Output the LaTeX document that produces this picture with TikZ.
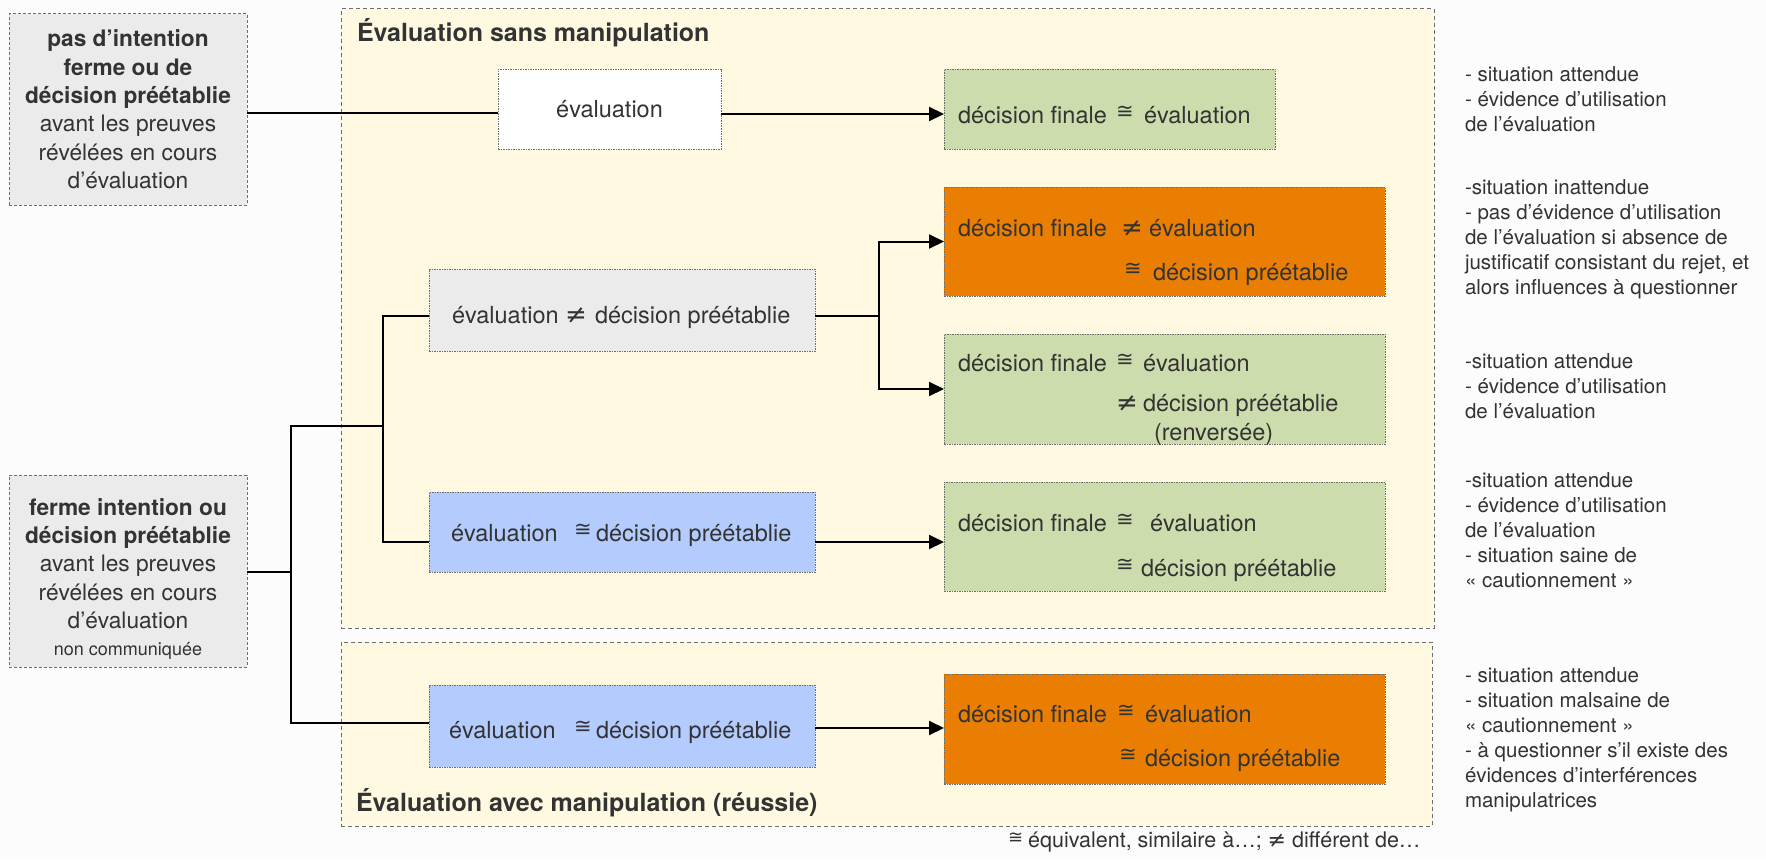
\documentclass[tikz,border=0pt]{standalone}
\usepackage{fontspec}
\setmainfont{TeX Gyre Heros}
\newfontfamily\sym{DejaVu Sans}
\usetikzlibrary{arrows.meta}
\definecolor{bgc}{HTML}{FCFCFC}
\definecolor{panelc}{HTML}{FFF9E1}
\definecolor{greyc}{HTML}{EBEBEB}
\definecolor{greenc}{HTML}{CDDCAC}
\definecolor{orangec}{HTML}{EA7E03}
\definecolor{bluec}{HTML}{B4CBFE}
\definecolor{txtc}{HTML}{333333}
\definecolor{bordc}{HTML}{6E6E6E}
\newcommand\eqv{\raisebox{4.5pt}{\fontsize{21}{21}\sym ≅}}
\newcommand\eqvs{\raisebox{3.5pt}{\fontsize{18}{18}\sym ≅}}
\newcommand\neqv{{\fontsize{26}{26}\sym ≠}}
\begin{document}
\begin{tikzpicture}[x=1pt,y=-1pt,
  every node/.style={inner sep=0pt, outer sep=0pt, text=txtc},
  panel/.style={draw=bordc, line width=1pt, dash pattern=on 4pt off 3pt, fill=panelc},
  sidebox/.style={draw=bordc, line width=1pt, dash pattern=on 3pt off 2pt, fill=greyc, align=center, font=\fontsize{22.7}{28.4}\selectfont},
  sidetxt/.style={align=center, font=\fontsize{22.7}{28.2}\selectfont},
  box/.style={draw=bordc, line width=0.9pt, dash pattern=on 1.5pt off 1pt},
  btxt/.style={anchor=base west, font=\fontsize{23.5}{28}\selectfont},
  note/.style={anchor=north west, align=left, font=\fontsize{20.5}{25}\selectfont},
  ttl/.style={anchor=base west, font=\bfseries\fontsize{25}{30}\selectfont},
  link/.style={line width=2pt, draw=black},
  arr/.style={link, -{Triangle[length=15pt,width=14pt]}},
]
\fill[bgc] (0,0) rectangle (1766,859);
\useasboundingbox (0,0) rectangle (1766,859);

% panels
\node[panel, anchor=north west, minimum width=1093pt, minimum height=619pt] (PA) at (341,9) {};
\node[panel, anchor=north west, minimum width=1091pt, minimum height=184pt] (PB) at (341,642) {};
\node[ttl] (TA) at (357,42) {Évaluation sans manipulation};
\node[ttl] (TB) at (356,811) {Évaluation avec manipulation (réussie)};

% left boxes
\node[sidebox, anchor=north west, minimum width=238pt, minimum height=191pt] (L1) at (9,14)
  {\textbf{pas d’intention}\\\textbf{ferme ou de}\\\textbf{décision préétablie}\\avant les preuves\\révélées en cours\\d’évaluation};
\node[sidebox, anchor=north west, minimum width=238pt, minimum height=192pt] (L2) at (9,475) {};
\node[sidetxt] (L2t) at (128,579)
  {\textbf{ferme intention ou}\\\textbf{décision préétablie}\\avant les preuves\\révélées en cours\\d’évaluation\\[-1pt]{\fontsize{18}{20}\selectfont non communiquée}};

% inner boxes
\node[box, fill=white, anchor=north west, minimum width=223pt, minimum height=80pt, font=\fontsize{23.5}{28}\selectfont] (E0) at (498,69) {évaluation};
\node[box, fill=greenc, anchor=north west, minimum width=331pt, minimum height=80pt] (G1) at (944,69) {};
\node[box, fill=orangec, anchor=north west, minimum width=441pt, minimum height=109pt] (O1) at (944,187) {};
\node[box, fill=greyc, anchor=north west, minimum width=386pt, minimum height=82pt] (GR) at (429,269) {};
\node[box, fill=greenc, anchor=north west, minimum width=441pt, minimum height=110pt] (G2) at (944,334) {};
\node[box, fill=bluec, anchor=north west, minimum width=386pt, minimum height=80pt] (B1) at (429,492) {};
\node[box, fill=greenc, anchor=north west, minimum width=441pt, minimum height=109pt] (G3) at (944,482) {};
\node[box, fill=bluec, anchor=north west, minimum width=386pt, minimum height=82pt] (B2) at (429,685) {};
\node[box, fill=orangec, anchor=north west, minimum width=441pt, minimum height=110pt] (O2) at (944,674) {};

% box texts
\node[btxt] (G1a) at (958,123) {\makebox[158pt][l]{décision finale}\makebox[28pt][l]{\eqv}évaluation};
\node[btxt] (O1a) at (958,236) {\makebox[163pt][l]{décision finale}\makebox[28pt][l]{\neqv}évaluation};
\node[btxt] (O1b) at (1124,280) {\makebox[29pt][l]{\eqv}décision préétablie};
\node[btxt] (GRa) at (452,323) {\makebox[113pt][l]{évaluation}\makebox[30pt][l]{\neqv}décision préétablie};
\node[btxt] (G2a) at (958,371) {\makebox[158pt][l]{décision finale}\makebox[27pt][l]{\eqv}évaluation};
\node[btxt] (G2b) at (1116,411) {\makebox[27pt][l]{\neqv}décision préétablie};
\node[btxt] (G2c) at (1154,440) {(renversée)};
\node[btxt] (B1a) at (451,541) {\makebox[123pt][l]{évaluation}\makebox[22pt][l]{\eqv}décision préétablie};
\node[btxt] (G3a) at (958,531) {\makebox[158pt][l]{décision finale}\makebox[34pt][l]{\eqv}évaluation};
\node[btxt] (G3b) at (1116,576) {\makebox[25pt][l]{\eqv}décision préétablie};
\node[btxt] (B2a) at (449,738) {\makebox[125pt][l]{évaluation}\makebox[22pt][l]{\eqv}décision préétablie};
\node[btxt] (O2a) at (958,722) {\makebox[159pt][l]{décision finale}\makebox[28pt][l]{\eqv}évaluation};
\node[btxt] (O2b) at (1119,766) {\makebox[26pt][l]{\eqv}décision préétablie};

% notes
\node[note] (N1) at (1465,67) {- situation attendue\\- évidence d’utilisation\\de l’évaluation};
\node[note] (N2) at (1465,180) {-situation inattendue\\- pas d’évidence d’utilisation\\de l’évaluation si absence de\\justificatif consistant du rejet, et\\alors influences à questionner};
\node[note] (N3) at (1465,354) {-situation attendue\\- évidence d’utilisation\\de l’évaluation};
\node[note] (N4) at (1465,473) {-situation attendue\\- évidence d’utilisation\\de l’évaluation\\- situation saine de\\« cautionnement »};
\node[note] (N5) at (1465,668) {- situation attendue\\- situation malsaine de\\« cautionnement »\\- à questionner s’il existe des\\évidences d’interférences\\manipulatrices};

\node[anchor=base west, font=\fontsize{21.5}{25}\selectfont] (LEG) at (1008,847) {\eqvs\hspace{5pt}équivalent, similaire à…; {\fontsize{22}{22}\sym ≠}\ différent de…};

% connectors
\coordinate (jL) at (291,572);
\coordinate (jT) at (291,426);
\coordinate (jBt) at (291,723);
\coordinate (jA) at (383,426);
\coordinate (jA1) at (383,316);
\coordinate (jA2) at (383,542);
\coordinate (jR) at (879,316);

\draw[link] (L1.east |- 0,113) -- (E0.west |- 0,113);
\draw[arr] (E0.east |- 0,114) -- (G1.west |- 0,114);
\draw[link] (L2.east |- jL) -- (jL);
\draw[link] (jA) -- (jT) -- (jBt) -- (B2.west |- jBt);
\draw[link] (GR.west |- jA1) -- (jA1) -- (jA2) -- (B1.west |- jA2);
\draw[link] (GR.east |- jR) -- (jR);
\draw[arr] (jR) |- (O1.west);
\draw[arr] (jR) |- (G2.west);
\draw[arr] (B1.east |- jA2) -- (G3.west |- jA2);
\draw[arr] (B2.east |- 0,728) -- (O2.west |- 0,728);
\end{tikzpicture}
\end{document}
